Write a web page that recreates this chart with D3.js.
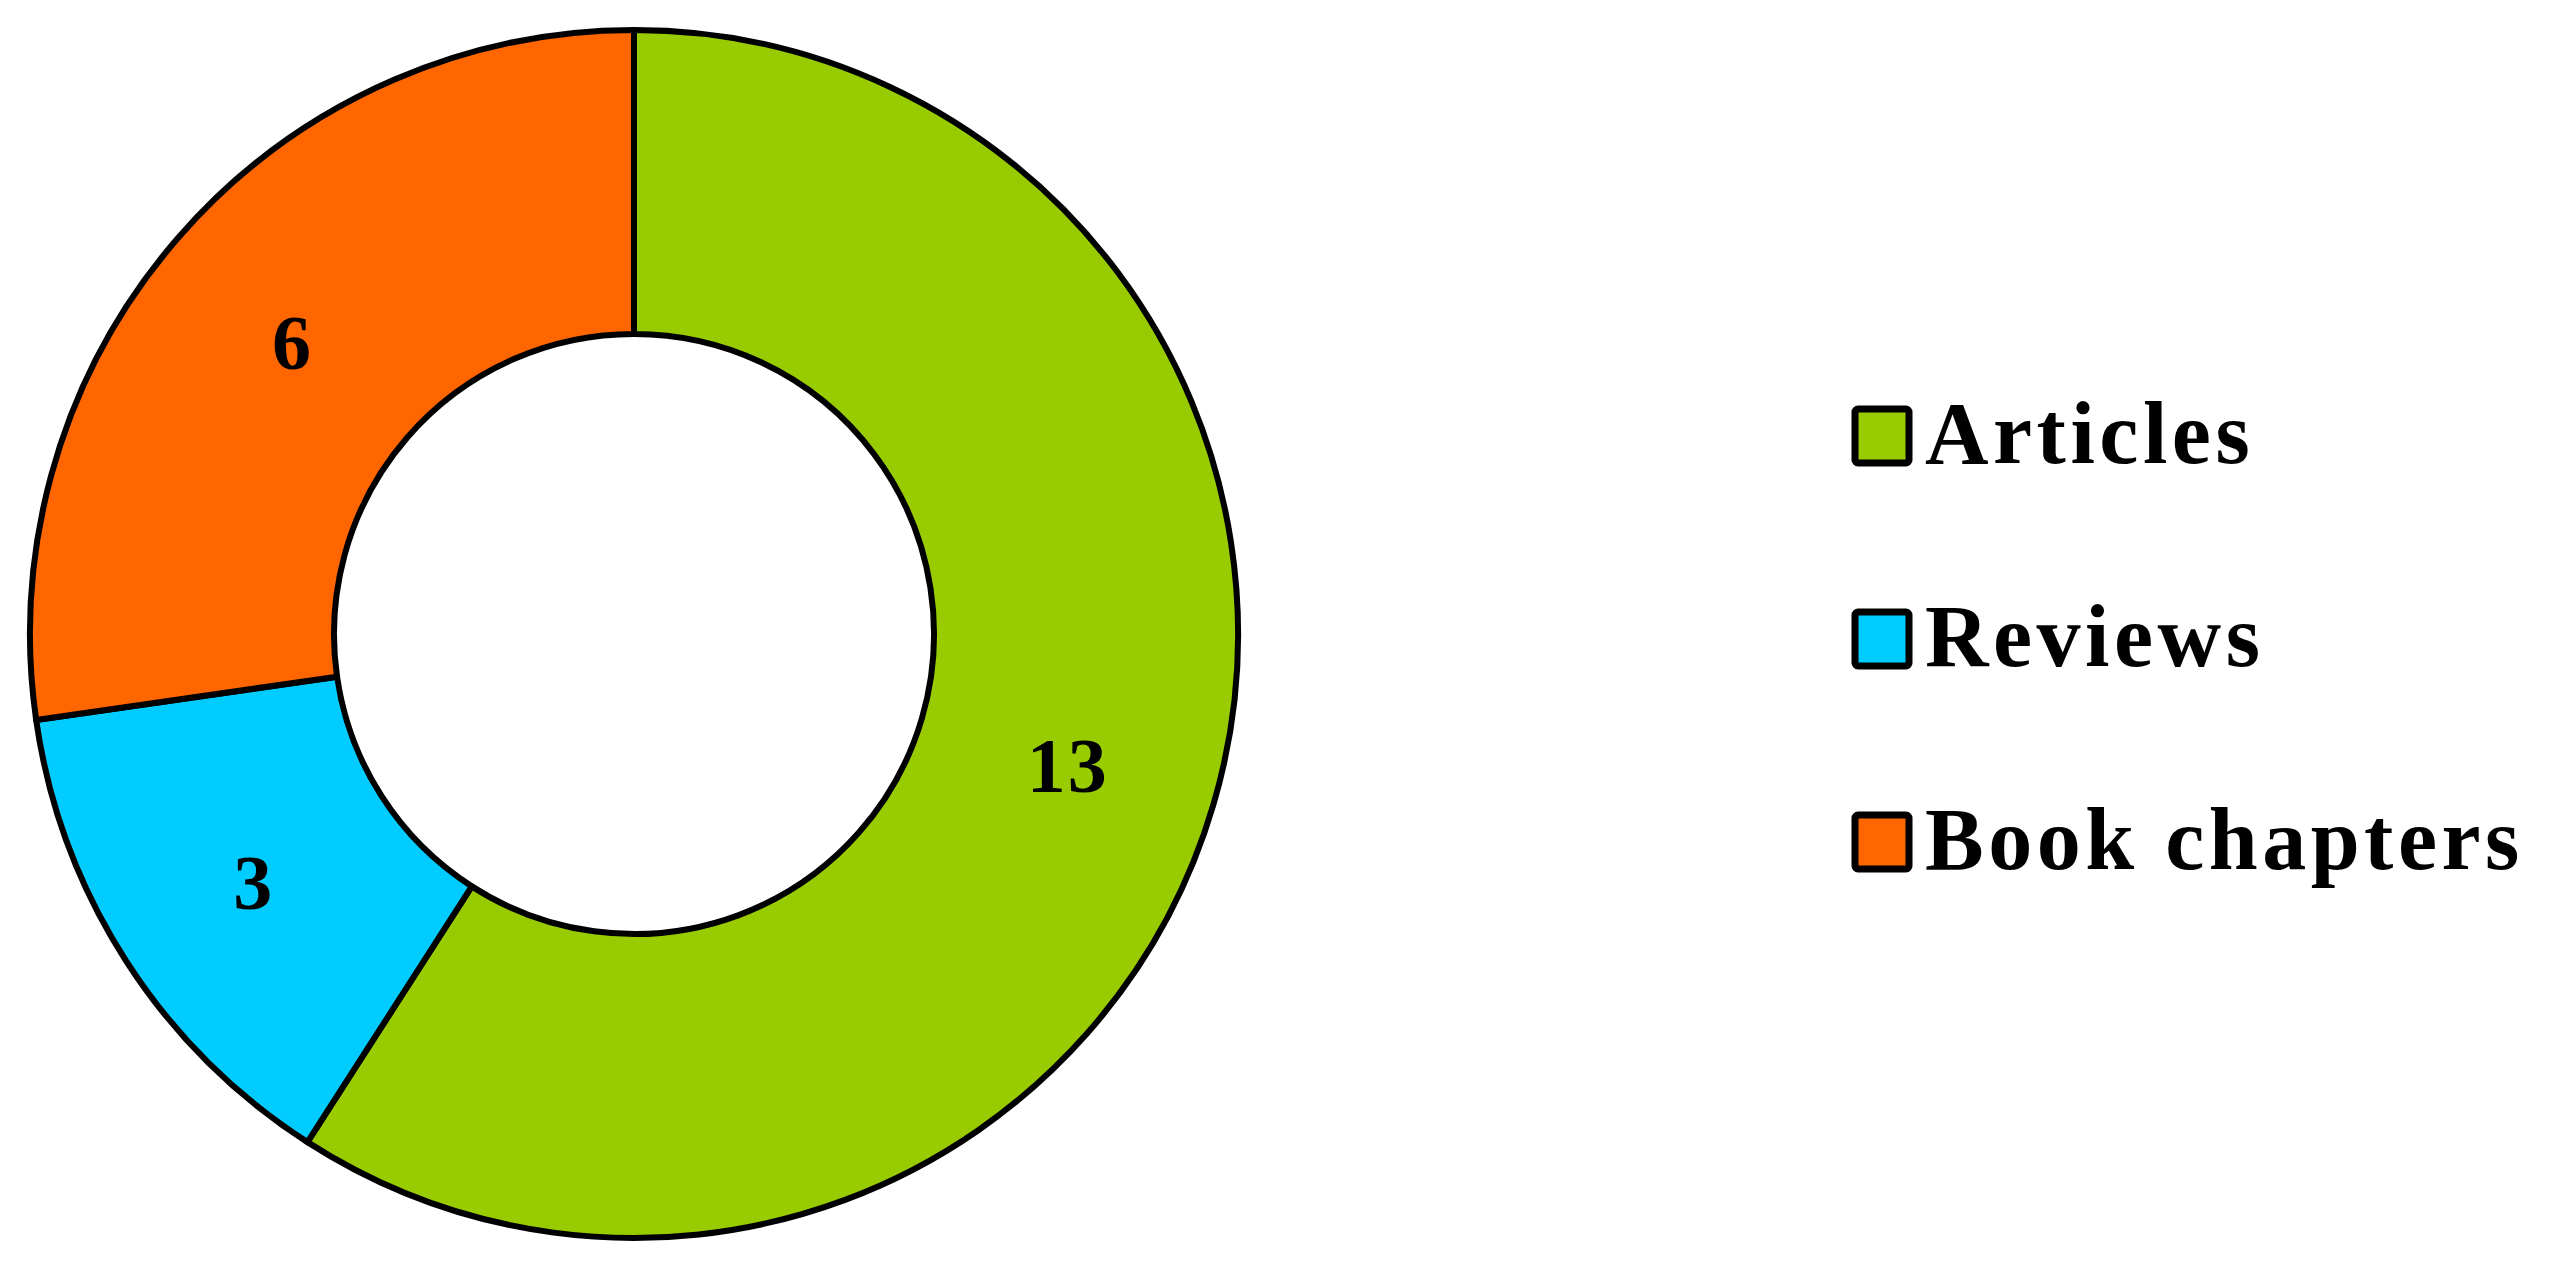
<!DOCTYPE html>
<html>
<head>
<meta charset="utf-8">
<script src="https://cdn.jsdelivr.net/npm/d3@7"></script>
<style>
  body { margin: 0; background: #fff; }
  svg { display: block; }
</style>
</head>
<body>
<svg id="chart"></svg>
<script>
var categories = ["Articles", "Reviews", "Book chapters"];
var counts = [13, 3, 6];
var colors = ["#99cc00", "#00ccff", "#ff6600"];

var w = 2549, h = 1270;
var cx = 634, cy = 634;
var outerR = 604, innerR = 300;
var fontFamily = "'Liberation Serif', 'DejaVu Serif', serif";

var svg = d3.select("#chart").attr("width", w).attr("height", h);

var data = categories.map(function(c, i) {
  return { name: c, value: counts[i], color: colors[i] };
});

var pie = d3.pie().sort(null).value(function(d) { return d.value; });
var arc = d3.arc().innerRadius(innerR).outerRadius(outerR);

var g = svg.append("g").attr("transform", "translate(" + cx + "," + cy + ")");

g.selectAll("path.slice")
  .data(pie(data))
  .join("path")
  .attr("class", "slice")
  .attr("d", arc)
  .attr("fill", function(d) { return d.data.color; })
  .attr("stroke", "#000")
  .attr("stroke-width", 6)
  .attr("stroke-linejoin", "round");

// value labels in the middle of each ring segment
g.selectAll("text.val")
  .data(pie(data))
  .join("text")
  .attr("class", "val")
  .attr("x", function(d) { return arc.centroid(d)[0]; })
  .attr("y", function(d) { return arc.centroid(d)[1] + 4; })
  .attr("text-anchor", "middle")
  .attr("dominant-baseline", "central")
  .style("font-family", fontFamily)
  .style("font-weight", "bold")
  .style("font-size", "78px")
  .style("letter-spacing", "2px")
  .text(function(d) { return d.data.value; });

// legend
var legendY = d3.scalePoint().domain(categories).range([436, 842]);
var box = 54;

var lg = svg.append("g").attr("class", "legend");
var rows = lg.selectAll("g")
  .data(data)
  .join("g")
  .attr("transform", function(d) { return "translate(1855," + legendY(d.name) + ")"; });

rows.append("rect")
  .attr("x", 0)
  .attr("y", -box / 2)
  .attr("width", box)
  .attr("height", box)
  .attr("rx", 3)
  .attr("fill", function(d) { return d.color; })
  .attr("stroke", "#000")
  .attr("stroke-width", 7);

rows.append("text")
  .attr("x", 70)
  .attr("y", 27)
  .style("font-family", fontFamily)
  .style("font-weight", "bold")
  .style("font-size", "88px")
  .style("letter-spacing", "4.5px")
  .text(function(d) { return d.name; });
</script>
</body>
</html>
